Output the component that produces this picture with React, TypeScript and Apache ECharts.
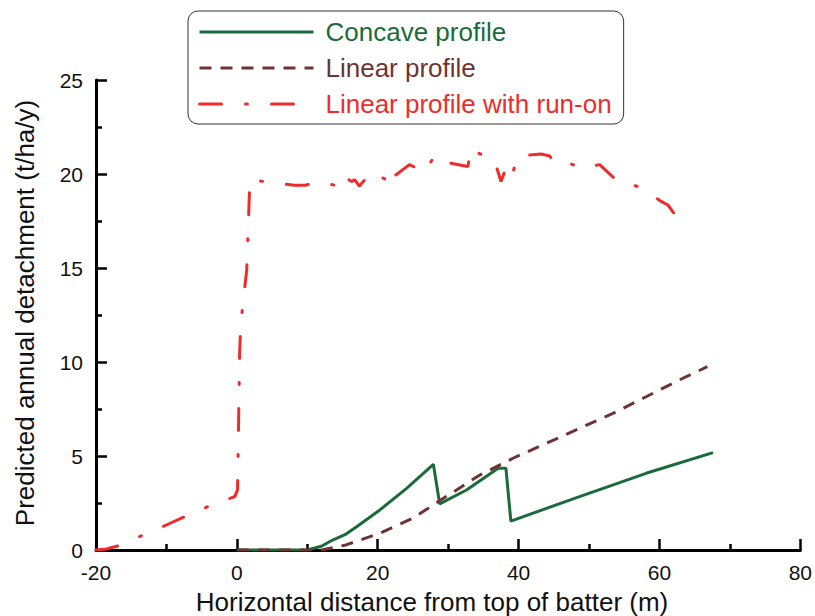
import React, { useEffect, useRef } from "react";
import * as echarts from "echarts";

const FONT = "'Liberation Sans', Arial, sans-serif";

const seriesNames = ["Concave profile", "Linear profile", "Linear profile with run-on"];
const seriesColors = ["#1b6b3a", "#6e3434", "#ef2b2b"];

const xTicks = { min: -20, max: 80, interval: 20 };
const yTicks = { min: 0, max: 25, interval: 5 };

const xTitle = "Horizontal distance from top of batter (m)";
const yTitle = "Predicted annual detachment (t/ha/y)";

const concaveX = [0, 10, 12, 13.6, 15.5, 17, 20.3, 24.1, 27.9, 28.8, 32.6, 37.1, 38.2, 38.9, 48.65, 58.1, 67.6];
const concaveY = [0, 0, 0.2, 0.53, 0.85, 1.24, 2.13, 3.28, 4.56, 2.45, 3.19, 4.35, 4.35, 1.54, 2.84, 4.08, 5.18];

const linearX = [0, 12, 15.5, 20.3, 25, 29.7, 34.5, 39.2, 43.9, 48.65, 53.4, 58.1, 62.8, 66.8];
const linearY = [0, 0, 0.27, 0.89, 1.69, 2.84, 3.99, 4.88, 5.67, 6.47, 7.27, 8.15, 9.04, 9.75];

const runOnX = [-20, -18.5, -16.6, -13.3, -10, -6.9, -3.6, -0.3, 0.1, 0.4, 0.6, 0.9, 1.4, 1.85, 4.6, 8.1, 9.7, 11.3, 14.1, 14.4, 15.5, 16.3, 16.7, 17.4, 19.1, 21.2, 21.9, 22.4, 24.5, 26.7, 28.1, 30, 32.8, 33.3, 33.8, 36.6, 37.5, 38, 38.7, 40, 43.2, 44.4, 44.9, 45.8, 48.9, 51.5, 54.1, 57.4, 60, 61.2, 62.1];
const runOnY = [0, 0.05, 0.25, 0.8, 1.33, 1.86, 2.39, 2.84, 3.2, 10.6, 12.2, 13.2, 14.9, 19.7, 19.56, 19.4, 19.4, 19.56, 19.4, 19.2, 19.8, 19.6, 19.7, 19.36, 20.1, 19.7, 19.3, 19.9, 20.5, 20.1, 21.0, 20.6, 20.4, 21.4, 21.2, 20.7, 19.6, 20.1, 19.6, 20.96, 21.06, 20.96, 20.7, 20.8, 20.3, 20.5, 19.6, 19.3, 18.6, 18.35, 17.9];

const zip = (xs: number[], ys: number[]) => xs.map((x, i) => [x, ys[i]]);

export default function App() {
  const ref = useRef<HTMLDivElement>(null);
  useEffect(() => {
    if (!ref.current) return;
    const chart = echarts.init(ref.current, undefined, { renderer: "svg" });
    const axisCommon = {
      axisLine: { show: true, onZero: false, lineStyle: { color: "#000", width: 3 } },
      axisTick: { show: true, inside: true, length: 11, lineStyle: { color: "#000", width: 2.5 } },
      minorTick: { show: true, splitNumber: 2, length: 6, lineStyle: { color: "#000", width: 2.5 } },
      splitLine: { show: false },
      minorSplitLine: { show: false },
    };
    chart.setOption({
      animation: false,
      backgroundColor: "#fff",
      grid: { left: 96, right: 13, top: 80, bottom: 66, containLabel: false },
      xAxis: {
        type: "value",
        ...xTicks,
        ...axisCommon,
        axisLabel: { fontSize: 21, color: "#111", fontFamily: FONT, margin: 12 },
      },
      yAxis: {
        type: "value",
        ...yTicks,
        ...axisCommon,
        axisLabel: { fontSize: 21, color: "#111", fontFamily: FONT, margin: 13 },
      },
      legend: {
        orient: "vertical",
        left: 188,
        top: 11,
        padding: [6, 12, 5, 10],
        itemWidth: 114,
        itemHeight: 14,
        itemGap: 6,
        borderColor: "#333",
        borderWidth: 1,
        borderRadius: 10,
        backgroundColor: "#fff",
        lineStyle: { width: 3 },
        itemStyle: { color: "rgba(0,0,0,0)", borderWidth: 0, opacity: 0 },
        textStyle: { fontSize: 26, lineHeight: 30, fontFamily: FONT, padding: [0, 0, 0, 7] },
        data: seriesNames.map((n, i) => ({ name: n, textStyle: { color: seriesColors[i] } })),
      },
      graphic: [
        {
          type: "text",
          x: 432,
          y: 602,
          style: { text: xTitle, fontSize: 26, fontFamily: FONT, fill: "#111", align: "center", verticalAlign: "middle" },
        },
        {
          type: "text",
          x: 25,
          y: 313,
          rotation: Math.PI / 2,
          style: { text: yTitle, fontSize: 26, fontFamily: FONT, fill: "#111", align: "center", verticalAlign: "middle" },
        },
      ],
      series: [
        {
          name: seriesNames[0],
          type: "line",
          data: zip(concaveX, concaveY),
          symbol: "none",
          lineStyle: { color: seriesColors[0], width: 3 },
          itemStyle: { color: seriesColors[0] },
        },
        {
          name: seriesNames[1],
          type: "line",
          data: zip(linearX, linearY),
          symbol: "none",
          lineStyle: { color: seriesColors[1], width: 3, type: [12, 9] },
          itemStyle: { color: seriesColors[1] },
        },
        {
          name: seriesNames[2],
          type: "line",
          data: zip(runOnX, runOnY),
          symbol: "none",
          lineStyle: { color: seriesColors[2], width: 3, type: [22, 24, 2, 24], cap: "round" },
          itemStyle: { color: seriesColors[2] },
        },
      ],
    });
    return () => chart.dispose();
  }, []);
  return <div ref={ref} style={{ width: 815, height: 616, position: "absolute", left: 0, top: 0 }} />;
}
